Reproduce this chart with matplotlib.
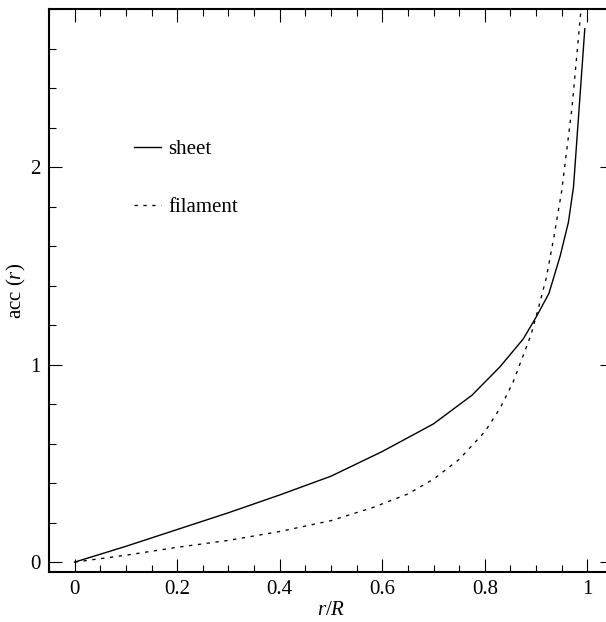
import matplotlib
matplotlib.use("Agg")
import matplotlib.pyplot as plt
from matplotlib.ticker import MultipleLocator, FixedLocator, FixedFormatter

# datos
r_sheet = [0.0, 0.1, 0.2, 0.3, 0.4, 0.5, 0.6, 0.7, 0.775, 0.83, 0.875, 0.9, 0.925, 0.947, 0.963, 0.973, 0.995]
acc_sheet = [0.0, 0.08, 0.165, 0.25, 0.34, 0.435, 0.56, 0.70, 0.845, 0.99, 1.13, 1.24, 1.36, 1.55, 1.72, 1.90, 2.70]

r_fil = [0.0, 0.1, 0.2, 0.3, 0.4, 0.5, 0.58, 0.65, 0.7, 0.75, 0.8, 0.83, 0.855, 0.89, 0.905, 0.92, 0.935, 0.95, 0.97, 0.987, 1.0]
acc_fil = [0.0, 0.035, 0.075, 0.11, 0.155, 0.21, 0.275, 0.345, 0.42, 0.52, 0.66, 0.78, 0.91, 1.15, 1.29, 1.44, 1.65, 1.88, 2.30, 2.78, 3.05]

xticks = [0, 0.2, 0.4, 0.6, 0.8, 1.0]
xtick_labels = ["0", "0.2", "0.4", "0.6", "0.8", "1"]
yticks = [0, 1, 2]
ytick_labels = ["0", "1", "2"]

plt.rcParams['font.family'] = ['Liberation Serif', 'DejaVu Serif']
plt.rcParams['mathtext.fontset'] = 'custom'
plt.rcParams['mathtext.rm'] = 'Liberation Serif'
plt.rcParams['mathtext.it'] = 'Liberation Serif:italic'
plt.rcParams['lines.scale_dashes'] = False

FS = 15

fig = plt.figure(figsize=(6.06, 6.22), dpi=100)
ax = fig.add_axes([49 / 606, 50 / 622, 564 / 606, 563 / 622])

ax.plot(r_sheet, acc_sheet, color='black', lw=1.0, label='sheet')
ax.plot(r_fil, acc_fil, color='black', lw=0.95, linestyle=(0, (2.4, 4.0)), label='filament')

ax.set_xlim(-0.05, 1.05)
ax.set_ylim(-0.05, 2.80)

ax.xaxis.set_major_locator(FixedLocator(xticks))
ax.xaxis.set_major_formatter(FixedFormatter(xtick_labels))
ax.xaxis.set_minor_locator(MultipleLocator(0.05))
ax.yaxis.set_major_locator(FixedLocator(yticks))
ax.yaxis.set_major_formatter(FixedFormatter(ytick_labels))
ax.yaxis.set_minor_locator(MultipleLocator(0.2))

ax.tick_params(which='both', direction='in', top=True, right=True, width=0.8, labelsize=FS)
ax.tick_params(which='major', length=9.4)
ax.tick_params(which='minor', length=4.7)
ax.tick_params(axis='x', pad=6)
ax.tick_params(axis='y', pad=6)

for s in ax.spines.values():
    s.set_linewidth(1.5)

ax.set_xlabel('$r$/$R$', fontsize=FS, labelpad=1)
ax.set_ylabel('acc ($r$)', fontsize=FS, labelpad=2)

leg = ax.legend(loc='upper left', bbox_to_anchor=(66 / 564, 1 - 112 / 563), frameon=False,
                fontsize=FS, handlelength=1.3, handletextpad=0.35, labelspacing=1.85)

fig.savefig('out.png', dpi=100)
plt.close(fig)
